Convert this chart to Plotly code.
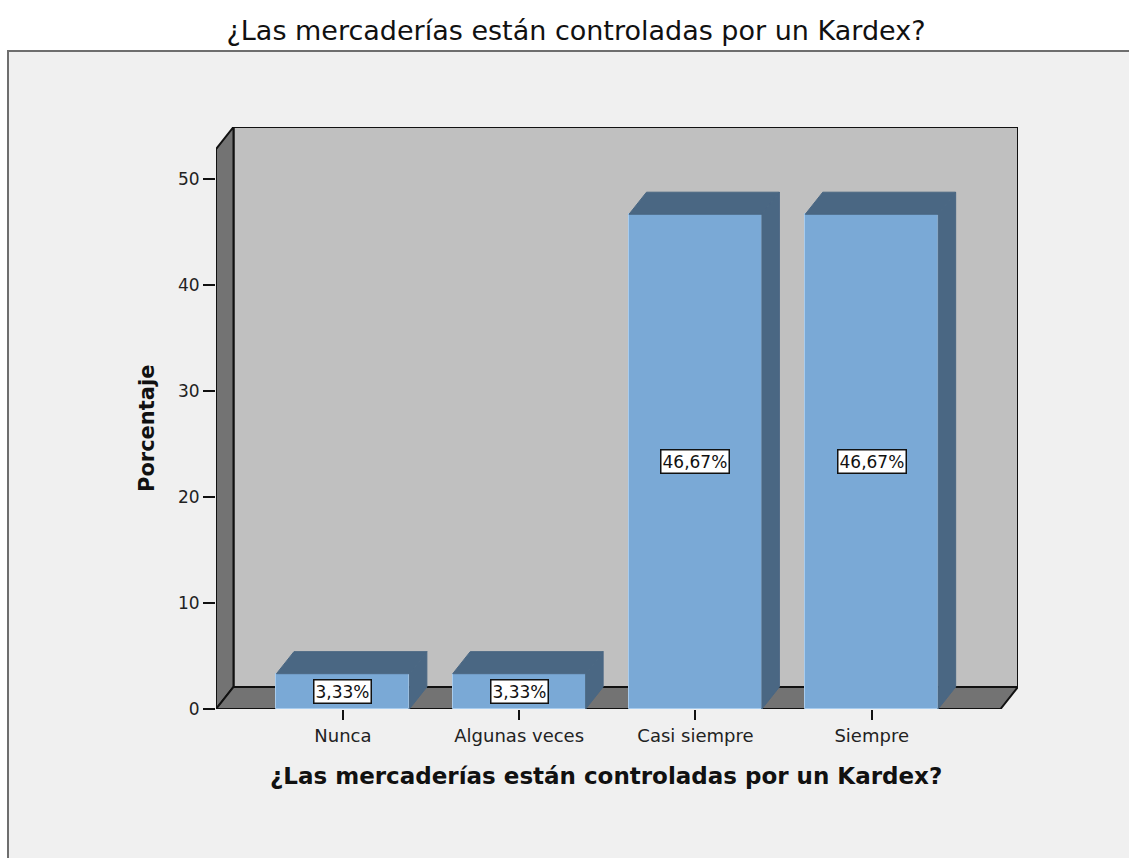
import plotly.graph_objects as go

categories = ["Nunca", "Algunas veces", "Casi siempre", "Siempre"]
values = [3.33, 3.33, 46.67, 46.67]
y_ticks = [0, 10, 20, 30, 40, 50]
title_text = "¿Las mercaderías están controladas por un Kardex?"
y_title = "Porcentaje"

# geometry (layout, not data)
W, H = 1129, 858
L, R, T, B = 216, 1129 - 1018, 127, 858 - 709
pw, ph = W - L - R, H - T - B
x_rng = [-0.72, 3.83]
y_rng = [0, 54.9]
bar_w = 0.754
dx = 0.0993          # depth offset in x units
dy = 2.08            # depth offset in y units
front_col = "#7AA9D6"
dark_col = "#4A6783"
edge_col = "#A8CCEE"
font_fam = "DejaVu Sans, Verdana, sans-serif"

xs = list(range(len(categories)))

fig = go.Figure()

fig.add_trace(go.Bar(
    x=xs, y=values, width=bar_w,
    marker=dict(color=front_col, line=dict(color=edge_col, width=1)),
    hoverinfo="skip", showlegend=False,
))

# 3D top and side faces derived from values
for xi, v in zip(xs, values):
    x0, x1 = xi - bar_w / 2, xi + bar_w / 2
    fig.add_trace(go.Scatter(
        x=[x0, x0 + dx, x1 + dx, x1, x0],
        y=[v, v + dy, v + dy, v, v],
        fill="toself", fillcolor=dark_col, mode="lines",
        line=dict(color=dark_col, width=1),
        hoverinfo="skip", showlegend=False,
    ))
    fig.add_trace(go.Scatter(
        x=[x1, x1 + dx, x1 + dx, x1, x1],
        y=[0, dy, v + dy, v, 0],
        fill="toself", fillcolor=dark_col, mode="lines",
        line=dict(color=dark_col, width=1),
        hoverinfo="skip", showlegend=False,
    ))

def px2paper_x(px):
    return (px - L) / pw

def py2paper_y(py):
    return (H - B - py) / ph

shapes = []
# outer panel
shapes.append(dict(type="rect", xref="paper", yref="paper",
                   x0=px2paper_x(8), x1=px2paper_x(1140),
                   y0=py2paper_y(900), y1=py2paper_y(51),
                   fillcolor="#F0F0F0", line=dict(color="#6E6E6E", width=2),
                   layer="below"))
xl, xr = x_rng[0], x_rng[1]
ytop = y_rng[1]
# back wall
shapes.append(dict(type="path", xref="x", yref="y",
                   path=f"M{xl+dx},{dy} L{xl+dx},{ytop} L{xr},{ytop} L{xr},{dy} Z",
                   fillcolor="#C0C0C0", line=dict(color="#111111", width=2),
                   layer="below"))
# left wall
shapes.append(dict(type="path", xref="x", yref="y",
                   path=f"M{xl},0 L{xl},{ytop-dy} L{xl+dx},{ytop} L{xl+dx},{dy} Z",
                   fillcolor="#737373", line=dict(color="#111111", width=2),
                   layer="below"))
# floor
shapes.append(dict(type="path", xref="x", yref="y",
                   path=f"M{xl},0 L{xl+dx},{dy} L{xr},{dy} L{xr-dx},0 Z",
                   fillcolor="#737373", line=dict(color="#111111", width=2),
                   layer="below"))

annotations = []
for xi, v in zip(xs, values):
    annotations.append(dict(
        x=xi, y=v / 2, xref="x", yref="y",
        text=f"{v:.2f}".replace(".", ",") + "%",
        showarrow=False, bgcolor="white", bordercolor="#111111",
        borderwidth=1.5, borderpad=1,
        font=dict(family=font_fam, size=17, color="#111111"),
    ))
annotations.append(dict(
    x=px2paper_x(606), y=py2paper_y(776), xref="paper", yref="paper",
    text=f"<b>{title_text}</b>", showarrow=False,
    font=dict(family=font_fam, size=23, color="#111111"),
    xanchor="center", yanchor="middle",
))
annotations.append(dict(
    x=px2paper_x(147), y=py2paper_y(429), xref="paper", yref="paper",
    text=f"<b>{y_title}</b>", showarrow=False, textangle=-90,
    font=dict(family=font_fam, size=21, color="#111111"),
    xanchor="center", yanchor="middle",
))

fig.update_layout(
    width=W, height=H,
    margin=dict(l=L, r=R, t=T, b=B, pad=0),
    paper_bgcolor="white", plot_bgcolor="rgba(0,0,0,0)",
    title=dict(text=title_text, x=576 / W, xanchor="center",
               y=1 - 31 / H, yanchor="middle", yref="container",
               font=dict(family=font_fam, size=27, color="#111111")),
    shapes=shapes, annotations=annotations,
    bargap=0, showlegend=False,
    xaxis=dict(range=x_rng, tickvals=xs, ticktext=categories,
               showgrid=False, zeroline=False, showline=False,
               ticks="outside", ticklen=10, tickwidth=1.5, tickcolor="#111111",
               tickfont=dict(family=font_fam, size=18, color="#222222"),
               fixedrange=True),
    yaxis=dict(range=y_rng, tickvals=y_ticks,
               showgrid=False, zeroline=False, showline=False,
               ticks="outside", ticklen=12, tickwidth=1.5, tickcolor="#111111",
               tickfont=dict(family=font_fam, size=17, color="#222222"),
               fixedrange=True),
)

fig.write_html(
    "out.html",
    config={"displayModeBar": False},
    post_script="document.body.style.margin='0px';document.body.style.overflow='hidden';",
)
